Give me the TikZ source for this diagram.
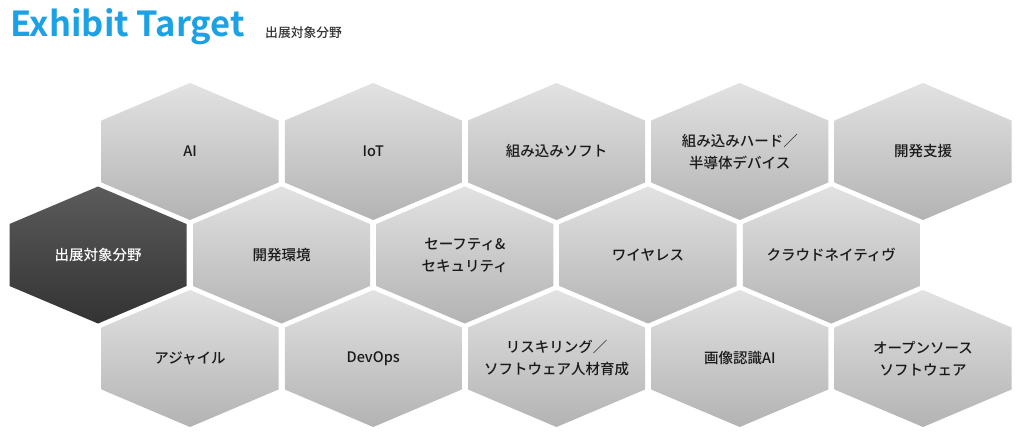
\documentclass[tikz,border=0pt]{standalone}
\usepackage{fontspec}
\usepackage{xcolor}
\usepackage{tikz}
\setmainfont{Noto Sans}
\newfontfamily\cjk{Noto Sans CJK JP}[BoldFont=* Bold]
\newfontfamily\cjkmed{Noto Sans CJK JP Medium}
\definecolor{titleblue}{HTML}{1BA1E4}
\definecolor{hextop}{HTML}{E2E2E2}
\definecolor{hexbot}{HTML}{B3B3B3}
\definecolor{darktop}{HTML}{5B5B5B}
\definecolor{darkbot}{HTML}{333333}
\definecolor{labeltext}{HTML}{1A1A1A}
\tikzset{
  hexlight/.pic={\shade[top color=hextop,bottom color=hexbot] (0,-68.5)--(88.5,-31)--(88.5,31)--(0,68.5)--(-88.5,31)--(-88.5,-31)--cycle;},
  hexdark/.pic={\shade[top color=darktop,bottom color=darkbot] (0,-68.5)--(88.5,-31)--(88.5,31)--(0,68.5)--(-88.5,31)--(-88.5,-31)--cycle;},
  hexlabel/.style={align=center,text=labeltext,font=\cjkmed\fontsize{14.5}{22}\selectfont}
}
\begin{document}
\begin{tikzpicture}[x=1pt,y=-1pt]
\useasboundingbox[fill=white] (0,0) rectangle (1024,435);
% title
\node[anchor=base west,inner sep=0,text=titleblue,font=\cjk\bfseries\fontsize{34.5}{35}\selectfont] (title) at (10,37) {Exhibit Target};
\node[anchor=base west,inner sep=0,text=darkbot,font=\cjkmed\fontsize{12.8}{13}\selectfont] (subtitle) at (265,38) {出展対象分野};
% top row
\pic at (190,151.5) {hexlight};
\pic at (373.25,151.5) {hexlight};
\pic at (556.5,151.5) {hexlight};
\pic at (739.75,151.5) {hexlight};
\pic at (923,151.5) {hexlight};
% middle row
\pic at (98,255) {hexdark};
\pic at (281.5,255) {hexlight};
\pic at (464.75,255) {hexlight};
\pic at (648,255) {hexlight};
\pic at (831.25,255) {hexlight};
% bottom row
\pic at (190,358.5) {hexlight};
\pic at (373.25,358.5) {hexlight};
\pic at (556.5,358.5) {hexlight};
\pic at (739.75,358.5) {hexlight};
\pic at (923,358.5) {hexlight};
% labels
\node[hexlabel] (ai) at (190,151.5) {AI};
\node[hexlabel] (iot) at (373.25,151.5) {IoT};
\node[hexlabel] (embsoft) at (556.5,151.5) {組み込みソフト};
\node[hexlabel] (embhard) at (739.75,151.5) {組み込みハード／\\半導体デバイス};
\node[hexlabel] (devsupport) at (923,151.5) {開発支援};
\node[hexlabel,text=white] (target) at (98,255) {出展対象分野};
\node[hexlabel] (devenv) at (281.5,255) {開発環境};
\node[hexlabel] (safety) at (464.75,255) {セーフティ\&\\セキュリティ};
\node[hexlabel] (wireless) at (648,255) {ワイヤレス};
\node[hexlabel] (cloud) at (831.25,255) {クラウドネイティヴ};
\node[hexlabel] (agile) at (190,358.5) {アジャイル};
\node[hexlabel] (devops) at (373.25,358.5) {DevOps};
\node[hexlabel] (reskill) at (556.5,358.5) {リスキリング／\\ソフトウェア人材育成};
\node[hexlabel] (imageai) at (739.75,358.5) {画像認識AI};
\node[hexlabel] (oss) at (923,358.5) {オープンソース\\ソフトウェア};
\end{tikzpicture}
\end{document}
